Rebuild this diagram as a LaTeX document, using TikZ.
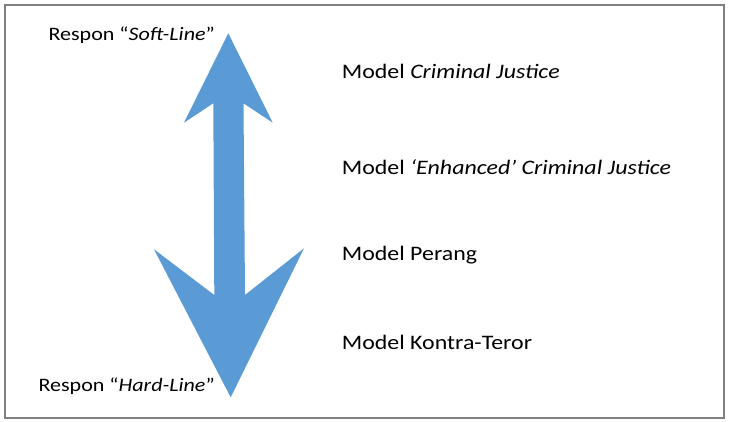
\documentclass[tikz,border=0pt]{standalone}
\usepackage{fontspec}
\setmainfont{Carlito}[FakeStretch=1.16]
\definecolor{arrowblue}{HTML}{5B9BD5}
\definecolor{framegray}{HTML}{808080}
\tikzset{
  modeltxt/.style={anchor=base west, inner sep=0pt, font=\fontsize{20.6}{24}\selectfont},
  respontxt/.style={anchor=base west, inner sep=0pt, font=\fontsize{19}{22}\selectfont},
}
\begin{document}
\begin{tikzpicture}[x=1pt,y=-1pt]
\useasboundingbox (0,0) rectangle (730,422);
\fill[white] (0,0) rectangle (730,422);
\draw[framegray, line width=2pt] (4.5,5.5) rectangle (724,417.5);
\fill[arrowblue] (228.3,33.3) -- (272.7,122.7) -- (243.5,103.3) -- (245,295) -- (304,248.3)
  -- (230.7,397.3) -- (154,249.3) -- (214.3,295) -- (213.3,103.3) -- (184,122.7) -- cycle;
\node[respontxt] (soft) at (48.3,40.7) {Respon “\textit{Soft-Line}”};
\node[respontxt] (hard) at (38.3,391.7) {Respon “\textit{Hard-Line}”};
\node[modeltxt] (m1) at (341.7,78.3) {Model \textit{Criminal Justice}};
\node[modeltxt] (m2) at (341.7,175) {Model \textit{‘Enhanced’ Criminal Justice}};
\node[modeltxt] (m3) at (341.7,260) {Model Perang};
\node[modeltxt] (m4) at (341.7,349) {Model Kontra-Teror};
\end{tikzpicture}
\end{document}
